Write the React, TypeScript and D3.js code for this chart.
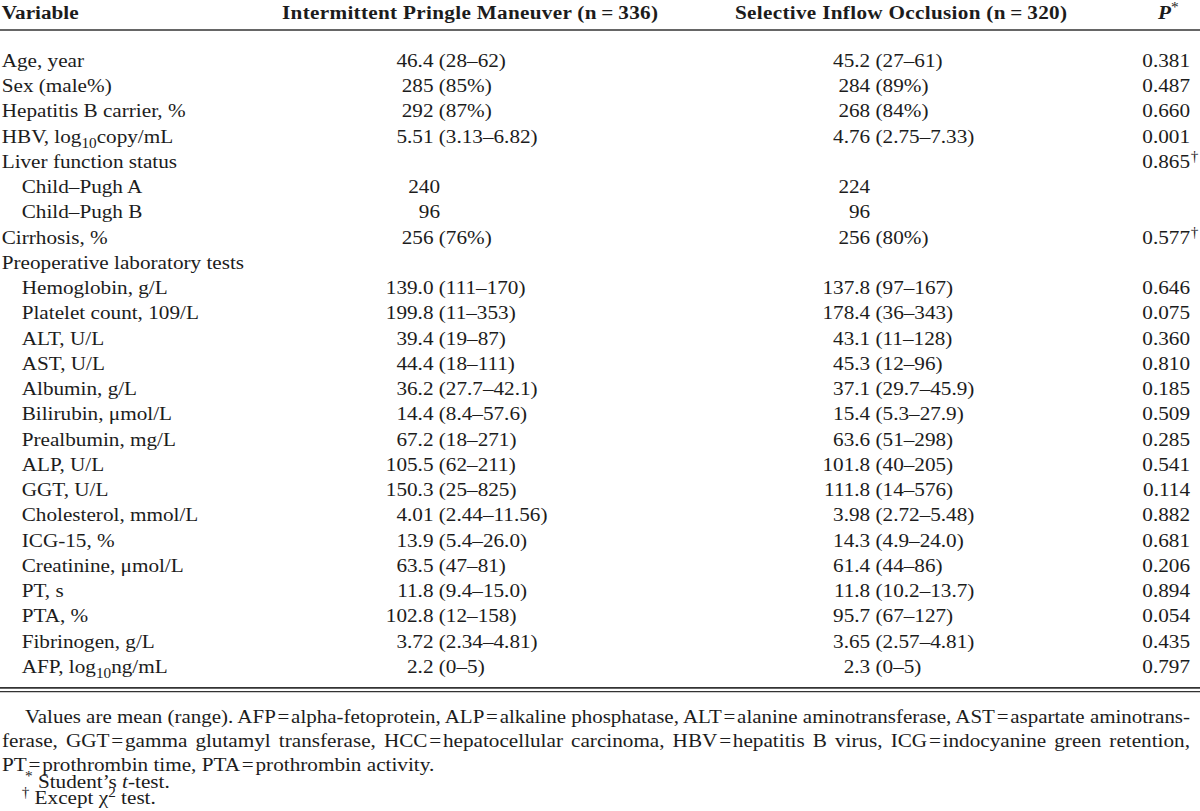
import React, { useEffect, useRef } from "react";
import * as d3 from "d3";

// ---------- data ----------
const HEADERS = [
  "Variable",
  "Intermittent Pringle Maneuver (n\u2009=\u2009336)",
  "Selective Inflow Occlusion (n\u2009=\u2009320)",
  "P",
];

const ROW_LABELS = [
  "Age, year",
  "Sex (male%)",
  "Hepatitis B carrier, %",
  "HBV, log_{10}copy/mL",
  "Liver function status",
  "Child\u2013Pugh A",
  "Child\u2013Pugh B",
  "Cirrhosis, %",
  "Preoperative laboratory tests",
  "Hemoglobin, g/L",
  "Platelet count, 109/L",
  "ALT, U/L",
  "AST, U/L",
  "Albumin, g/L",
  "Bilirubin, \u03bcmol/L",
  "Prealbumin, mg/L",
  "ALP, U/L",
  "GGT, U/L",
  "Cholesterol, mmol/L",
  "ICG-15, %",
  "Creatinine, \u03bcmol/L",
  "PT, s",
  "PTA, %",
  "Fibrinogen, g/L",
  "AFP, log_{10}ng/mL",
];

const ROW_LEVEL = [0, 0, 0, 0, 0, 1, 1, 0, 0, 1, 1, 1, 1, 1, 1, 1, 1, 1, 1, 1, 1, 1, 1, 1, 1];

const IPM_MEAN = ["46.4", "285", "292", "5.51", "", "240", "96", "256", "", "139.0", "199.8", "39.4", "44.4", "36.2", "14.4", "67.2", "105.5", "150.3", "4.01", "13.9", "63.5", "11.8", "102.8", "3.72", "2.2"];
const IPM_RANGE = ["(28\u201362)", "(85%)", "(87%)", "(3.13\u20136.82)", "", "", "", "(76%)", "", "(111\u2013170)", "(11\u2013353)", "(19\u201387)", "(18\u2013111)", "(27.7\u201342.1)", "(8.4\u201357.6)", "(18\u2013271)", "(62\u2013211)", "(25\u2013825)", "(2.44\u201311.56)", "(5.4\u201326.0)", "(47\u201381)", "(9.4\u201315.0)", "(12\u2013158)", "(2.34\u20134.81)", "(0\u20135)"];

const SIO_MEAN = ["45.2", "284", "268", "4.76", "", "224", "96", "256", "", "137.8", "178.4", "43.1", "45.3", "37.1", "15.4", "63.6", "101.8", "111.8", "3.98", "14.3", "61.4", "11.8", "95.7", "3.65", "2.3"];
const SIO_RANGE = ["(27\u201361)", "(89%)", "(84%)", "(2.75\u20137.33)", "", "", "", "(80%)", "", "(97\u2013167)", "(36\u2013343)", "(11\u2013128)", "(12\u201396)", "(29.7\u201345.9)", "(5.3\u201327.9)", "(51\u2013298)", "(40\u2013205)", "(14\u2013576)", "(2.72\u20135.48)", "(4.9\u201324.0)", "(44\u201386)", "(10.2\u201313.7)", "(67\u2013127)", "(2.57\u20134.81)", "(0\u20135)"];

const P_VALUES = ["0.381", "0.487", "0.660", "0.001", "0.865", "", "", "0.577", "", "0.646", "0.075", "0.360", "0.810", "0.185", "0.509", "0.285", "0.541", "0.114", "0.882", "0.681", "0.206", "0.894", "0.054", "0.435", "0.797"];
const P_MARKS = ["", "", "", "", "\u2020", "", "", "\u2020", "", "", "", "", "", "", "", "", "", "", "", "", "", "", "", "", ""];

const EQ = "\u200a=\u200a";
const FOOTNOTES = [
  `Values are mean (range). AFP${EQ}alpha-fetoprotein, ALP${EQ}alkaline phosphatase, ALT${EQ}alanine aminotransferase, AST${EQ}aspartate aminotrans-`,
  `ferase, GGT${EQ}gamma glutamyl transferase, HCC${EQ}hepatocellular carcinoma, HBV${EQ}hepatitis B virus, ICG${EQ}indocyanine green retention,`,
  `PT${EQ}prothrombin time, PTA${EQ}prothrombin activity.`,
  "^{*} Student\u2019s ~{t}-test.",
  "^{\u2020} Except \u03c7^{2} test.",
];

// ---------- layout ----------
const W = 1200;
const H = 811;
const SX = 1.087; // horizontal stretch of the typeset page
const FS = 19.5;
const FONT = '"Liberation Serif", "Times New Roman", Times, serif';
const INK = "#1c1c1c";
const ux = (px: number) => px / SX;

function rich(s: string, fs: number) {
  const parts = s.split(/(_\{[^}]*\}|\^\{[^}]*\}|~\{[^}]*\})/).filter((p) => p !== "");
  const out: React.ReactNode[] = [];
  let shift = 0;
  parts.forEach((p, i) => {
    if (p.startsWith("_{")) {
      out.push(<tspan key={i} fontSize={fs * 0.72} dy={5 - shift}>{p.slice(2, -1)}</tspan>);
      shift = 5;
    } else if (p.startsWith("^{")) {
      out.push(<tspan key={i} fontSize={fs * 0.72} dy={-7 - shift}>{p.slice(2, -1)}</tspan>);
      shift = -7;
    } else if (p.startsWith("~{")) {
      out.push(<tspan key={i} fontStyle="italic" dy={-shift}>{p.slice(2, -1)}</tspan>);
      shift = 0;
    } else {
      out.push(<tspan key={i} dy={-shift}>{p}</tspan>);
      shift = 0;
    }
  });
  return out;
}

export default function App() {
  const ref = useRef<SVGSVGElement>(null);

  const n = ROW_LABELS.length;
  const y = d3.scalePoint<number>().domain(d3.range(n)).range([66.8, 672.8]);
  const colX = d3.scaleOrdinal<string, number>()
    .domain(["label", "label1", "mean1", "mean2", "p"])
    .range([1.7, 21.7, 433.5, 870.2, 1190]);
  const footY = d3.scaleOrdinal<number, number>().domain([0, 1, 2, 3, 4]).range([723.5, 747.5, 771, 788.5, 804.5]);
  const footX = [25, 2, 2, 25, 21.7];
  const justifyTo = [1190, 1190, 0, 0, 0];

  useEffect(() => {
    const svg = d3.select(ref.current);
    svg.selectAll<SVGTextElement, unknown>("text.justify").each(function () {
      const el = this;
      el.style.wordSpacing = "0px";
      el.removeAttribute("textLength");
      el.removeAttribute("lengthAdjust");
      const natural = el.getComputedTextLength();
      const target = +(el.getAttribute("data-target") || 0);
      const spaces = ((el.textContent || "").match(/ /g) || []).length;
      if (target > natural && spaces > 0) {
        el.style.wordSpacing = `${(target - natural) / spaces}px`;
      } else if (target < natural) {
        el.setAttribute("textLength", String(target));
        el.setAttribute("lengthAdjust", "spacingAndGlyphs");
      }
    });
  }, []);

  const space = FS * 0.25;

  return (
    <svg
      ref={ref}
      width={W}
      height={H}
      viewBox={`0 0 ${W / SX} ${H}`}
      preserveAspectRatio="none"
      style={{ position: "absolute", left: 0, top: 0, background: "#fff", display: "block" }}
      fontFamily={FONT}
      fontSize={FS}
      fill={INK}
    >
      <rect x={0} y={0} width={W / SX} height={H} fill="#fff" />
      {/* header */}
      <g fontWeight="bold">
        <text x={ux(1.7)} y={19}>{HEADERS[0]}</text>
        <text x={ux(282)} y={19} textLength={ux(658 - 282)} lengthAdjust="spacing">{HEADERS[1]}</text>
        <text x={ux(735)} y={19} textLength={ux(1067 - 735)} lengthAdjust="spacing">{HEADERS[2]}</text>
        <text x={ux(1158)} y={19}>
          <tspan fontStyle="italic">{HEADERS[3]}</tspan>
          <tspan fontSize={FS * 0.72} dy={-7} fontWeight="normal">*</tspan>
        </text>
      </g>
      <line x1={0} x2={W / SX} y1={30} y2={30} stroke="#333" strokeWidth={1.5} />

      {/* body */}
      {ROW_LABELS.map((lab, i) => {
        const yy = y(i)!;
        const lx = ROW_LEVEL[i] ? colX("label1") : colX("label");
        const r1 = IPM_RANGE[i] ? colX("mean1") : colX("mean1") + 6.5;
        const r2 = colX("mean2");
        return (
          <g key={i}>
            <text x={ux(lx)} y={yy}>{rich(lab, FS)}</text>
            {IPM_MEAN[i] && <text x={ux(r1)} y={yy} textAnchor="end">{IPM_MEAN[i]}</text>}
            {IPM_RANGE[i] && <text x={ux(r1) + space} y={yy}>{IPM_RANGE[i]}</text>}
            {SIO_MEAN[i] && <text x={ux(r2)} y={yy} textAnchor="end">{SIO_MEAN[i]}</text>}
            {SIO_RANGE[i] && <text x={ux(r2) + space} y={yy}>{SIO_RANGE[i]}</text>}
            {P_VALUES[i] && <text x={ux(colX("p"))} y={yy} textAnchor="end">{P_VALUES[i]}</text>}
            {P_MARKS[i] && (
              <text x={ux(colX("p")) + 0.6} y={yy - 7} fontSize={FS * 0.72}>{P_MARKS[i]}</text>
            )}
          </g>
        );
      })}

      <line x1={0} x2={W / SX} y1={687.8} y2={687.8} stroke="#333" strokeWidth={1.8} />
      <line x1={0} x2={W / SX} y1={691.6} y2={691.6} stroke="#333" strokeWidth={1.2} />

      {/* footnotes */}
      {FOOTNOTES.map((f, i) => (
        <text
          key={i}
          className={justifyTo[i] ? "justify" : undefined}
          data-target={justifyTo[i] ? ux(justifyTo[i] - footX[i]) : undefined}
          x={ux(footX[i])}
          y={footY(i)}
        >
          {rich(f, FS)}
        </text>
      ))}
    </svg>
  );
}
